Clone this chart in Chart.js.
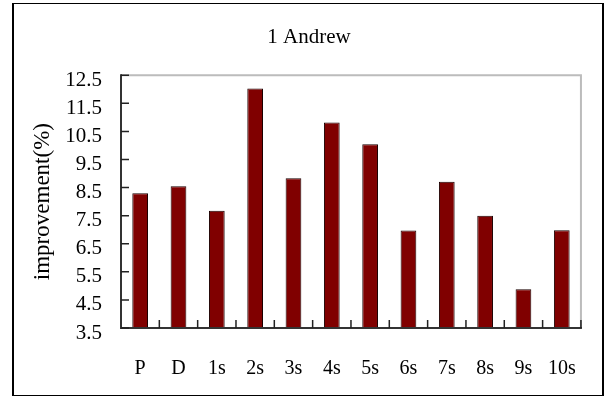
<!DOCTYPE html>
<html>
<head>
<meta charset="utf-8">
<title>1 Andrew</title>
<script src="https://cdn.jsdelivr.net/npm/chart.js@4/dist/chart.umd.min.js"></script>
<style>
    html, body { margin: 0; padding: 0; background: #fff; }
    #frame {
        position: absolute; left: 12px; top: 3px;
        width: 588px; height: 391px;
        border: 1px solid #000; border-left-width: 2px; border-right-width: 2px;
    }
    #wrap { position: absolute; left: 0; top: 0; width: 605px; height: 398px; }
</style>
</head>
<body>
<div id="frame"></div>
<div id="wrap"><canvas id="chart_improvement" width="605" height="398"></canvas></div>
<script>
    const categories = ['P', 'D', '1s', '2s', '3s', '4s', '5s', '6s', '7s', '8s', '9s', '10s'];
    const improvement = [8.3, 8.55, 7.67, 12.03, 8.83, 10.82, 10.04, 6.97, 8.71, 7.5, 4.88, 6.98];
    const yTicks = [3.5, 4.5, 5.5, 6.5, 7.5, 8.5, 9.5, 10.5, 11.5, 12.5];

    const serif = "'Liberation Serif', 'DejaVu Serif', serif";

    // ticks drawn inward, grey top/right frame, dark axes
    const innerTicks = {
        id: 'innerTicks',
        afterDatasetsDraw(chart) {
            const { ctx, chartArea: a, scales: { x, y } } = chart;
            ctx.save();
            ctx.lineWidth = 2;
            ctx.strokeStyle = '#bcbcbc';
            ctx.beginPath();
            ctx.moveTo(a.left, a.top);
            ctx.lineTo(a.right, a.top);
            ctx.lineTo(a.right, a.bottom);
            ctx.stroke();

            ctx.strokeStyle = '#333';
            ctx.beginPath();
            ctx.moveTo(a.left, a.top - 1);
            ctx.lineTo(a.left, a.bottom);
            ctx.lineTo(a.right + 1, a.bottom);
            ctx.stroke();

            ctx.lineWidth = 1.5;
            ctx.strokeStyle = '#222';
            ctx.beginPath();
            y.ticks.forEach(t => {
                const py = y.getPixelForValue(t.value);
                ctx.moveTo(a.left, py);
                ctx.lineTo(a.left + 8, py);
            });
            for (let i = 1; i <= categories.length; i++) {
                const px = x.getPixelForValue(i - 0.5);
                ctx.moveTo(px, a.bottom);
                ctx.lineTo(px, a.bottom - 8);
            }
            ctx.stroke();
            ctx.restore();
        }
    };

    new Chart(document.getElementById('chart_improvement'), {
        type: 'bar',
        data: {
            labels: categories,
            datasets: [{
                label: 'improvement',
                data: improvement,
                backgroundColor: '#800000',
                borderColor: '#1a0000',
                borderWidth: 1,
                barPercentage: 0.41,
                categoryPercentage: 1
            }]
        },
        options: {
            responsive: false,
            animation: false,
            layout: {
                padding: { left: 21, right: 8, top: 0, bottom: 0 }
            },
            plugins: {
                legend: { display: false },
                tooltip: { enabled: false },
                title: {
                    display: true,
                    text: '1 Andrew',
                    color: '#000',
                    font: { family: serif, size: 21, weight: 'normal' },
                    padding: { top: 25, bottom: 25 }
                }
            },
            scales: {
                x: {
                    grid: { display: false, drawTicks: false },
                    border: { display: false },
                    ticks: {
                        color: '#000',
                        font: { family: serif, size: 20 },
                        padding: 29,
                        maxRotation: 0,
                        autoSkip: false
                    },
                    afterFit(scale) { scale.height = 70; }
                },
                y: {
                    min: 3.5,
                    max: 12.5,
                    grid: { display: false, drawTicks: false },
                    border: { display: false },
                    afterBuildTicks(scale) {
                        scale.ticks = yTicks.map(v => ({ value: v }));
                    },
                    ticks: {
                        color: '#000',
                        font: { family: serif, size: 21 },
                        padding: 19,
                        labelOffset: 5,
                        autoSkip: false,
                        callback: v => v.toFixed(1)
                    },
                    title: {
                        display: true,
                        text: 'improvement(%)',
                        color: '#000',
                        font: { family: serif, size: 23 },
                        padding: { top: 8, bottom: 0 }
                    },
                    afterFit(scale) { scale.width = 100; }
                }
            }
        },
        plugins: [innerTicks]
    });
</script>
</body>
</html>
